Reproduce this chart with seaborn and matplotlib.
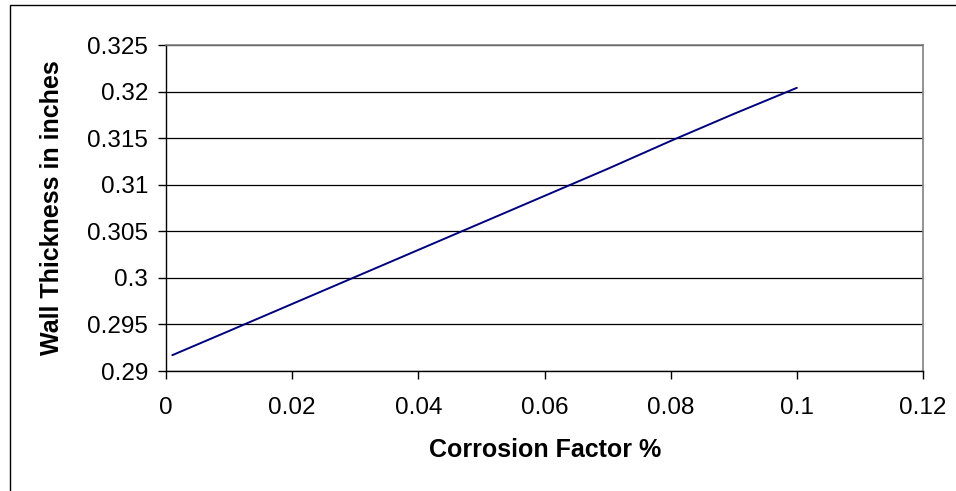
import matplotlib
matplotlib.use("Agg")
import matplotlib.pyplot as plt
from matplotlib.patches import Rectangle
import seaborn as sns
import pandas as pd

corrosion = [0.001, 0.01, 0.02, 0.03, 0.04, 0.05, 0.06, 0.07, 0.08, 0.09, 0.1]
thickness = [0.2917, 0.2943, 0.2972, 0.3001, 0.3030, 0.3059, 0.3088, 0.3117, 0.3147, 0.3176, 0.3204]
x_ticks = [0, 0.02, 0.04, 0.06, 0.08, 0.1, 0.12]
x_labels = ["0", "0.02", "0.04", "0.06", "0.08", "0.1", "0.12"]
y_ticks = [0.29, 0.295, 0.3, 0.305, 0.31, 0.315, 0.32, 0.325]
y_labels = ["0.29", "0.295", "0.3", "0.305", "0.31", "0.315", "0.32", "0.325"]

df = pd.DataFrame({"Corrosion Factor %": corrosion, "Wall Thickness in inches": thickness})

sns.set_theme(style="white")
plt.rcParams['font.family'] = ['Liberation Sans', 'DejaVu Sans']

fig = plt.figure(figsize=(9.56, 4.91), dpi=100)
ax = fig.add_axes([166/956, 1-371/491, (923-166)/956, (371-45)/491])

sns.lineplot(data=df, x="Corrosion Factor %", y="Wall Thickness in inches",
             ax=ax, color="#000080", linewidth=1.4)

ax.set_xlim(0, 0.12)
ax.set_ylim(0.29, 0.325)
ax.set_xticks(x_ticks)
ax.set_xticklabels(x_labels)
ax.set_yticks(y_ticks)
ax.set_yticklabels(y_labels)
ax.grid(axis="y", color="black", linewidth=0.9)
ax.grid(axis="x", visible=False)
ax.set_axisbelow(True)

for side in ["top", "right"]:
    ax.spines[side].set_color("#808080")
    ax.spines[side].set_linewidth(1.2)
for side in ["left", "bottom"]:
    ax.spines[side].set_color("black")
    ax.spines[side].set_linewidth(1.0)

ax.tick_params(axis="both", direction="out", length=6, width=1, color="black",
               labelsize=17.5, labelcolor="black", pad=7, left=True, bottom=True)
ax.tick_params(axis="x", pad=13)

ax.set_xlabel("Corrosion Factor %", fontsize=18, fontweight="bold", color="black")
ax.set_ylabel("Wall Thickness in inches", fontsize=18, fontweight="bold", color="black")
ax.xaxis.set_label_coords((545 - 166) / (923 - 166), -(450 - 371) / (371 - 45))
ax.yaxis.set_label_coords(-(166 - 52) / (923 - 166), 0.5)
ax.xaxis.label.set_va("center")
ax.yaxis.label.set_va("center")

fig.patches.append(Rectangle((10/956, -0.5), 1.5, 1.5 - 5/491,
                             transform=fig.transFigure, fill=False,
                             edgecolor="black", linewidth=1.0))

fig.savefig("out.png", dpi=100)
